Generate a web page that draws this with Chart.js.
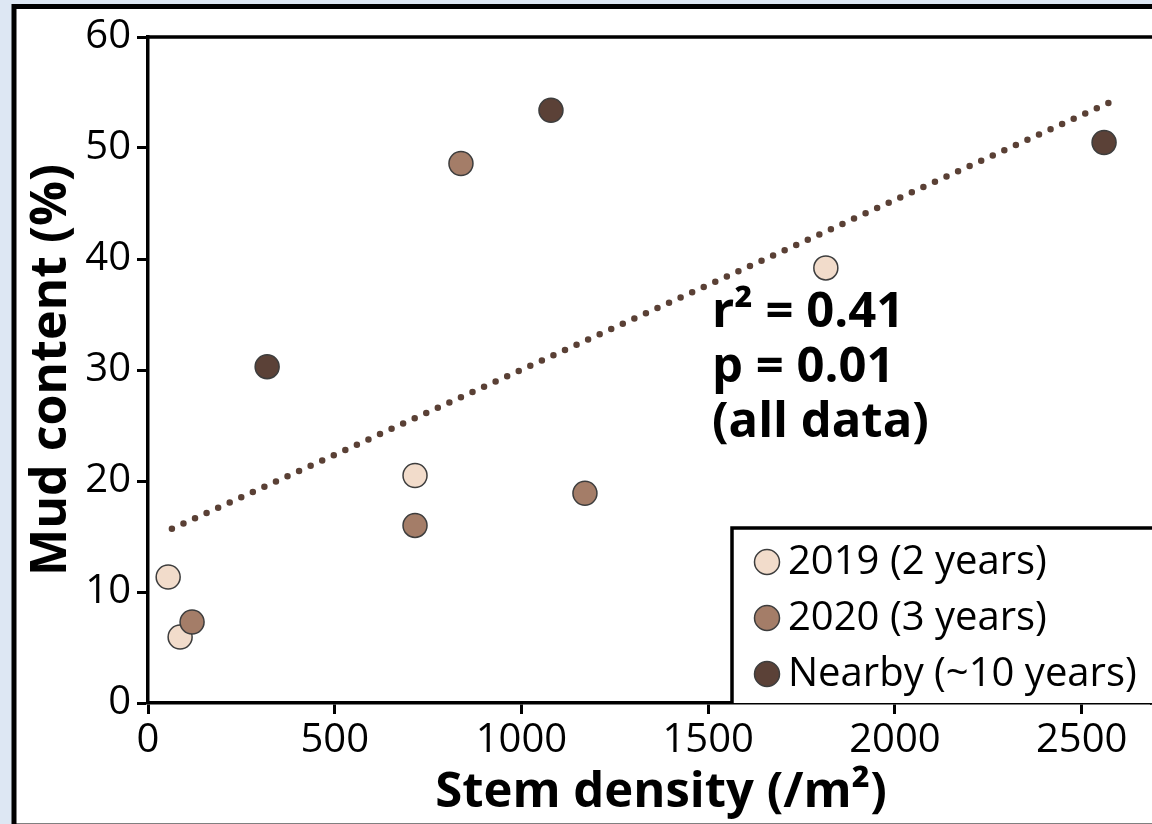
<!DOCTYPE html>
<html>
<head>
<meta charset="utf-8">
<title>Mud content vs stem density</title>
<script src="https://cdn.jsdelivr.net/npm/chart.js@4.4.1/dist/chart.umd.min.js"></script>
<style>
  html, body { margin: 0; padding: 0; background: #dde7f3; }
  canvas { display: block; }
</style>
</head>
<body>
<canvas id="chart" width="1152" height="824"></canvas>
<script>
// Series labels and colours
const seriesLabels = ['2019 (2 years)', '2020 (3 years)', 'Nearby (~10 years)'];
const seriesColors = ['#f2dccb', '#a47d68', '#5b4137'];

// Stem density (/m²) and mud content (%) per site
const density2019 = [54, 86, 715, 1815];
const mud2019     = [11.35, 5.95, 20.5, 39.2];
const density2020 = [118, 715, 838, 1170];
const mud2020     = [7.3, 16.0, 48.6, 18.9];
const densityNearby = [319, 1079, 2560];
const mudNearby     = [30.3, 53.4, 50.5];

// Regression line end points (all data)
const trendDensity = [64, 2581];
const trendMud     = [15.7, 54.2];

// Axis ticks
const xTicks = [0, 500, 1000, 1500, 2000, 2500];
const yTicks = [0, 10, 20, 30, 40, 50, 60];

// Axis titles and fit statistics
const xTitle = 'Stem density (/m²)';
const yTitle = 'Mud content (%)';
const statsLines = ['r² = 0.41', 'p = 0.01', '(all data)'];

const FONT = "'Open Sans', 'Noto Sans', sans-serif";
const toPoints = (xs, ys) => xs.map((x, i) => ({ x: x, y: ys[i] }));

// Page panel: light blue backdrop, white sheet with a heavy black border
const panelPlugin = {
  id: 'panel',
  beforeDraw(chart) {
    const ctx = chart.ctx;
    ctx.save();
    ctx.fillStyle = '#dde7f3';
    ctx.fillRect(0, 0, chart.width, chart.height);
    ctx.fillStyle = '#ffffff';
    ctx.fillRect(14, 6, chart.width + 20, chart.height + 20);
    ctx.strokeStyle = '#000000';
    ctx.lineWidth = 5;
    ctx.strokeRect(14, 6.5, chart.width + 20, chart.height - 4.5);
    ctx.restore();
  }
};

// Top edge of the plotting frame and the x-axis title
const framePlugin = {
  id: 'frame',
  afterDraw(chart) {
    const { ctx, chartArea } = chart;
    ctx.save();
    ctx.strokeStyle = '#000000';
    ctx.lineWidth = 3.5;
    ctx.beginPath();
    ctx.moveTo(chartArea.left, chartArea.top);
    ctx.lineTo(chart.width + 5, chartArea.top);
    ctx.moveTo(chartArea.right, chartArea.bottom);
    ctx.lineTo(chart.width + 5, chartArea.bottom);
    ctx.stroke();

    ctx.fillStyle = '#000000';
    ctx.font = "bold 49px " + FONT;
    ctx.textAlign = 'center';
    ctx.textBaseline = 'alphabetic';
    ctx.fillText(xTitle, 661, 807);
    ctx.restore();
  }
};

// Statistics text and boxed legend
const notesPlugin = {
  id: 'notes',
  afterDraw(chart) {
    const { ctx, scales, chartArea } = chart;
    ctx.save();
    // statistics block
    ctx.fillStyle = '#000000';
    ctx.font = "bold 49px " + FONT;
    ctx.textAlign = 'left';
    ctx.textBaseline = 'alphabetic';
    const sx = scales.x.getPixelForValue(1510);
    const baselines = [33.9, 28.95, 24.0].map(v => scales.y.getPixelForValue(v));
    statsLines.forEach((t, i) => ctx.fillText(t, sx, baselines[i]));

    // legend box
    const bx = 732, by = 528;
    ctx.fillStyle = '#ffffff';
    ctx.fillRect(bx, by, chart.width, chartArea.bottom - by);
    ctx.strokeStyle = '#000000';
    ctx.lineWidth = 3.5;
    ctx.beginPath();
    ctx.moveTo(bx, chartArea.bottom);
    ctx.lineTo(bx, by);
    ctx.lineTo(chart.width + 5, by);
    ctx.stroke();

    const rows = [562, 618, 674];
    ctx.font = "40px " + FONT;
    ctx.textBaseline = 'middle';
    seriesLabels.forEach((label, i) => {
      ctx.beginPath();
      ctx.arc(767, rows[i], 12.5, 0, Math.PI * 2);
      ctx.fillStyle = seriesColors[i];
      ctx.fill();
      ctx.lineWidth = 1.5;
      ctx.strokeStyle = '#3d3d3d';
      ctx.stroke();
      ctx.fillStyle = '#000000';
      ctx.fillText(label, 788, rows[i] + 1);
    });
    ctx.restore();
  }
};

const pointStyle = (i, order) => ({
  type: 'scatter',
  label: seriesLabels[i],
  backgroundColor: seriesColors[i],
  borderColor: '#3d3d3d',
  borderWidth: 1.5,
  pointRadius: 12,
  pointHoverRadius: 12,
  order: order,
  clip: false
});

const chart = new Chart(document.getElementById('chart'), {
  type: 'scatter',
  data: {
    datasets: [
      Object.assign(pointStyle(0, 3), { data: toPoints(density2019, mud2019) }),
      Object.assign(pointStyle(1, 2), { data: toPoints(density2020, mud2020) }),
      Object.assign(pointStyle(2, 1), { data: toPoints(densityNearby, mudNearby) }),
      {
        type: 'line',
        label: 'trend',
        data: toPoints(trendDensity, trendMud),
        borderColor: '#5a4035',
        borderWidth: 6.5,
        borderDash: [0, 12.7],
        borderCapStyle: 'round',
        pointRadius: 0,
        fill: false,
        tension: 0,
        order: 4,
        clip: false
      }
    ]
  },
  options: {
    responsive: false,
    animation: false,
    devicePixelRatio: 1,
    layout: { autoPadding: false, padding: { top: 37, right: 2, left: 0, bottom: 0 } },
    plugins: {
      legend: { display: false },
      tooltip: { enabled: false },
      title: { display: false }
    },
    scales: {
      x: {
        type: 'linear',
        min: 0,
        max: 2683,
        afterBuildTicks: s => { s.ticks = xTicks.map(v => ({ value: v })); },
        afterFit: s => { s.height = 121; s.paddingLeft = 0; s.paddingRight = 0; },
        ticks: {
          color: '#000000',
          font: { family: FONT, size: 40 },
          padding: 3,
          maxRotation: 0,
          autoSkip: false,
          callback: v => String(v)
        },
        grid: {
          drawOnChartArea: false,
          drawTicks: true,
          tickLength: 11,
          tickWidth: 3,
          color: '#000000'
        },
        border: { display: true, color: '#000000', width: 3.5 },
        title: { display: false }
      },
      y: {
        type: 'linear',
        min: 0,
        max: 60,
        afterBuildTicks: s => { s.ticks = yTicks.map(v => ({ value: v })); },
        afterFit: s => { s.width = 148; },
        ticks: {
          color: '#000000',
          font: { family: FONT, size: 40 },
          padding: 6,
          autoSkip: false,
          callback: v => String(v)
        },
        grid: {
          drawOnChartArea: false,
          drawTicks: true,
          tickLength: 11,
          tickWidth: 3,
          color: '#000000'
        },
        border: { display: true, color: '#000000', width: 3.5 },
        title: {
          display: true,
          text: yTitle,
          color: '#000000',
          font: { family: FONT, size: 50, weight: 'bold' },
          padding: { top: 22, bottom: 0 }
        }
      }
    }
  },
  plugins: [panelPlugin, framePlugin, notesPlugin]
});
</script>
</body>
</html>
